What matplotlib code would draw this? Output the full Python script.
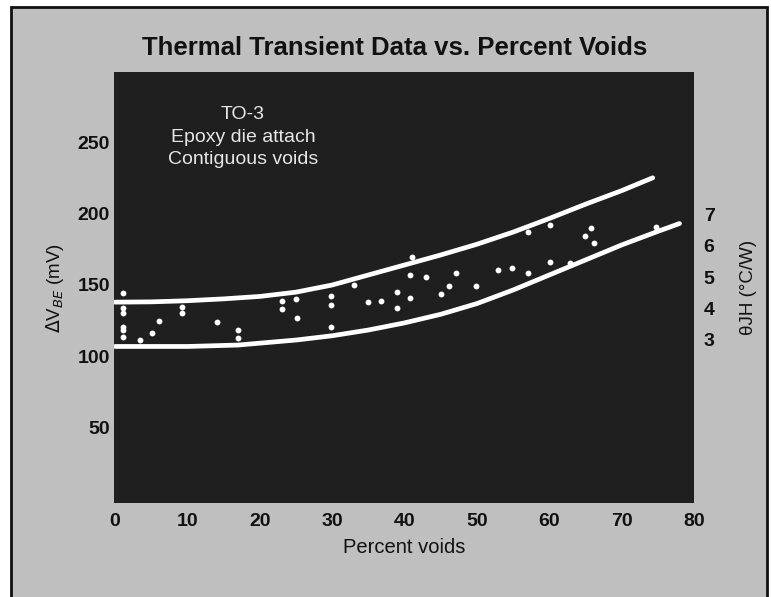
import numpy as np
import matplotlib
matplotlib.use("Agg")
import matplotlib.pyplot as plt
from matplotlib.patches import Rectangle

# band limits (percent voids -> mV)
upper_x = [0, 5, 10, 15, 20, 25, 30, 35, 40, 45, 50, 55, 60, 65, 70, 74.3]
upper_y = [138, 138.2, 139, 140.3, 142, 145, 150, 157, 164, 171, 178.5,
           187, 196.5, 206.5, 216, 225]
lower_x = [0, 10, 17, 25, 30, 35, 40, 45, 50, 55, 60, 65, 70, 75, 78]
lower_y = [107, 107, 108, 111.5, 114.5, 118.5, 123.5, 129.5, 137, 146.5,
           157, 167.5, 178, 187.5, 193]

# measured points
void_pct = [1.1, 1.1, 1.1, 1.1, 1.1, 1.1,
            3.5, 5.1, 6.1, 9.2, 9.2, 14.1, 17.0, 17.0,
            23.0, 23.0, 25.0, 25.1, 29.9, 29.9, 29.9,
            33.0, 35.0, 36.8, 39.0, 39.0, 41.0, 40.8, 42.9, 47.1, 46.2,
            45.0, 40.7, 49.9, 52.9, 54.9, 57.0, 57.1, 60.1, 60.1, 62.9,
            65.8, 64.9, 66.2, 74.8]
delta_vbe = [144.2, 133.9, 130.4, 120.8, 118.5, 113.8,
             111.5, 116.2, 125.0, 134.8, 130.2, 124.3, 118.5, 112.9,
             139.0, 133.0, 140.0, 126.7, 142.3, 136.0, 120.4,
             150.0, 137.9, 139.0, 145.3, 133.7, 169.8, 157.0, 155.8, 158.6, 149.5,
             143.7, 140.7, 149.5, 160.5, 162.1, 158.2, 187.3, 192.0, 166.3, 165.2,
             189.6, 184.3, 179.6, 190.8]

x_ticks = [0, 10, 20, 30, 40, 50, 60, 70, 80]
y_ticks = [50, 100, 150, 200, 250]
theta_ticks = [3, 4, 5, 6, 7]
MV_AT_ZERO_THETA = 45.9
MV_PER_CW = 21.9

plt.rcParams['font.family'] = ['Liberation Sans', 'DejaVu Sans']

fig = plt.figure(figsize=(7.71, 5.97), dpi=100, facecolor="white")
# gray scanned panel with black frame
fig.add_artist(Rectangle((11 / 771, -0.05), 756 / 771, 1.05 - 7 / 597,
                         transform=fig.transFigure, facecolor="#bfbfbf",
                         edgecolor="#111111", linewidth=2.0, zorder=-10))

ax = fig.add_axes([114 / 771, 1 - 503 / 597, 580 / 771, 431 / 597])
ax.set_facecolor("#1f1f1f")
for s in ax.spines.values():
    s.set_visible(False)

ax.plot(upper_x, upper_y, color="white", lw=3.4, solid_capstyle="round")
ax.plot(lower_x, lower_y, color="white", lw=3.4, solid_capstyle="round")
ax.plot(void_pct, delta_vbe, "o", color="white", ms=4.2, mec="none")

ax.set_xlim(-0.15, 80)
ax.set_ylim(-2.5, 299)
ax.set_xticks(x_ticks)
ax.set_yticks(y_ticks)
ax.tick_params(length=0, labelsize=14, colors="#111111")
ax.tick_params(axis="x", pad=7)
ax.tick_params(axis="y", pad=3)
for lab in ax.get_xticklabels() + ax.get_yticklabels():
    lab.set_fontweight("bold")

sec = ax.secondary_yaxis(
    "right",
    functions=(lambda v: (v - MV_AT_ZERO_THETA) / MV_PER_CW,
               lambda t: t * MV_PER_CW + MV_AT_ZERO_THETA))
sec.set_yticks(theta_ticks)
sec.tick_params(length=0, labelsize=14, colors="#111111", pad=7)
for lab in sec.get_yticklabels():
    lab.set_fontweight("bold")
sec.spines["right"].set_visible(False)
sec.set_ylabel("θJH (°C/W)", fontsize=13.5, color="#111111", labelpad=18)

ax.set_xlabel("Percent voids", fontsize=14.5, color="#111111", labelpad=6)
ax.set_ylabel(r"$\Delta$V$_{BE}$ (mV)", fontsize=13.5, color="#111111", labelpad=8)

fig.text(395 / 771, 1 - 48 / 597, "Thermal Transient Data vs. Percent Voids",
         ha="center", va="center", fontsize=18.5, fontweight="bold", color="#111111")

ax.text((243 - 114) / 580, 1 - (137 - 72) / 431, "TO-3\nEpoxy die attach\nContiguous voids",
        transform=ax.transAxes, ha="center", va="center", fontsize=14,
        color="#e6e6e6", linespacing=1.45)

fig.savefig("out.png", dpi=100, facecolor=fig.get_facecolor())
